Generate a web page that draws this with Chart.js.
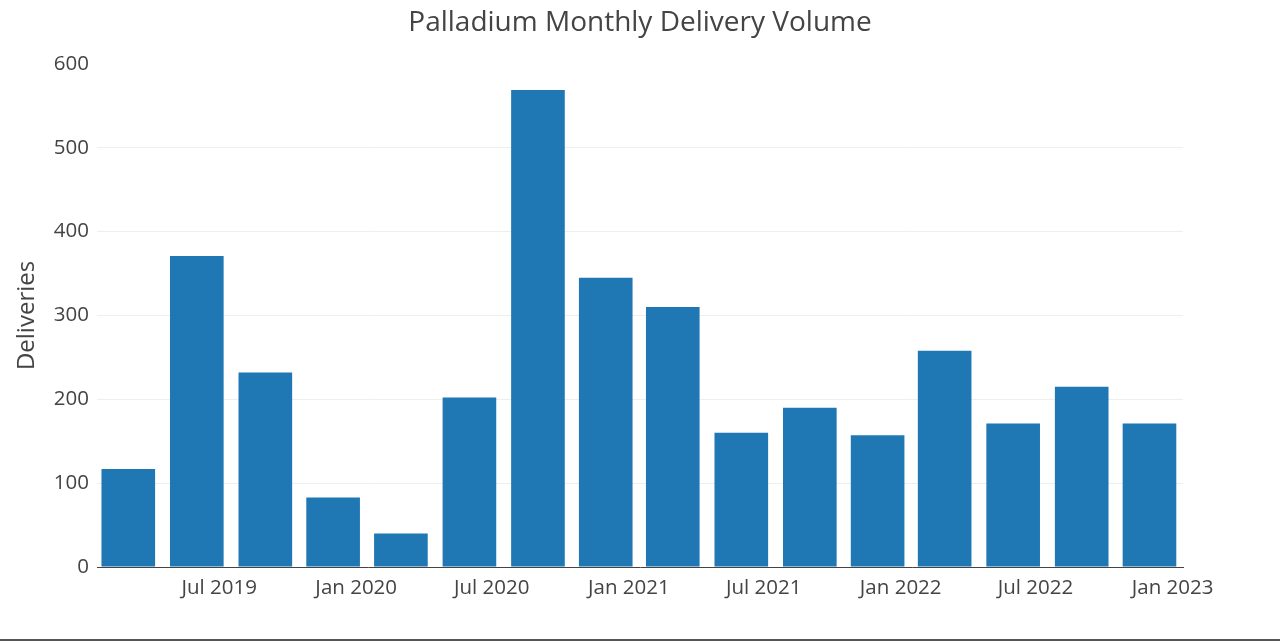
<!DOCTYPE html>
<html>
<head>
<meta charset="utf-8">
<script src="https://cdn.jsdelivr.net/npm/chart.js@4.4.1/dist/chart.umd.min.js"></script>
<style>
	body { margin:0; background:#fff; }
	#wrap { width:1280px; height:639px; border-bottom:2px solid #555; }
	canvas { display:block; }
</style>
</head>
<body>
<div id="wrap"><canvas id="chart" width="1280" height="639"></canvas></div>
<script>
// delivery months (first of month) and contract deliveries
const deliveryMonths = ['2019-03-01', '2019-06-01', '2019-09-01', '2019-12-01',
	'2020-03-01', '2020-06-01', '2020-09-01', '2020-12-01',
	'2021-03-01', '2021-06-01', '2021-09-01', '2021-12-01',
	'2022-03-01', '2022-06-01', '2022-09-01', '2022-12-01'];
const deliveries = [117, 371, 232, 83, 40, 202, 569, 345, 310, 160, 190, 157, 258, 171, 215, 171];

const tickDates = ['2019-07-01', '2020-01-01', '2020-07-01', '2021-01-01',
	'2021-07-01', '2022-01-01', '2022-07-01', '2023-01-01'];
const tickLabels = ['Jul 2019', 'Jan 2020', 'Jul 2020', 'Jan 2021',
	'Jul 2021', 'Jan 2022', 'Jul 2022', 'Jan 2023'];
const yTicks = [0, 100, 200, 300, 400, 500, 600];

const toDay = s => Date.parse(s) / 86400000;
const anchor = toDay('2019-07-01');

Chart.defaults.font.family = '"Open Sans", sans-serif';
Chart.defaults.color = '#444';

new Chart(document.getElementById('chart'), {
	type: 'bar',
	data: {
		datasets: [{
			label: 'Deliveries',
			data: deliveryMonths.map((d, i) => ({ x: toDay(d), y: deliveries[i] })),
			backgroundColor: '#1f77b4',
			borderWidth: 0,
			barPercentage: 0.8,
			categoryPercentage: 1
		}]
	},
	options: {
		responsive: false,
		animation: false,
		layout: { padding: 0 },
		plugins: {
			legend: { display: false },
			tooltip: { enabled: false },
			title: {
				display: true,
				text: 'Palladium Monthly Delivery Volume',
				font: { size: 28, weight: 'normal' },
				color: '#444',
				padding: { top: 6, bottom: 24.3 }
			}
		},
		scales: {
			x: {
				type: 'linear',
				offset: false,
				min: anchor - 164,
				max: anchor + 1294,
				afterBuildTicks: s => { s.ticks = tickDates.map(d => ({ value: toDay(d) })); },
				ticks: {
					callback: (v, i) => tickLabels[i],
					autoSkip: false, maxRotation: 0, minRotation: 0,
					padding: 9,
					font: { size: 20.5 }
				},
				grid: { display: false, drawTicks: false, offset: false },
				border: { display: true, color: '#444', width: 1 },
				afterFit: s => { s.height = 639 - 567; }
			},
			y: {
				min: 0, max: 600,
				afterBuildTicks: s => { s.ticks = yTicks.map(v => ({ value: v })); },
				grid: {
					drawTicks: false,
					color: ctx => (ctx.tick && (ctx.tick.value === 0 || ctx.tick.value === 600)) ? 'rgba(0,0,0,0)' : '#eeeeee'
				},
				border: { display: false },
				ticks: { padding: 8, font: { size: 20.5 } },
				title: {
					display: true, text: 'Deliveries',
					font: { size: 24 },
					padding: { top: 13, bottom: 0 }
				},
				afterFit: s => { s.width = 97; }
			},
			yRight: {
				position: 'right',
				min: 0, max: 1,
				grid: { display: false, drawTicks: false },
				border: { display: false },
				ticks: { display: false },
				afterFit: s => { s.width = 97; }
			}
		}
	}
});
</script>
</body>
</html>
